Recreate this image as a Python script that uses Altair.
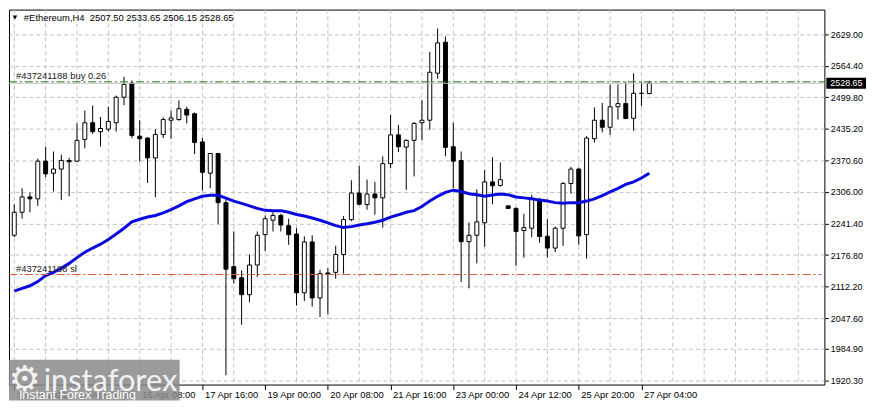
import altair as alt
import pandas as pd

# ---------------- data (ETH H4) ----------------
opens = [2217.4, 2264.5, 2295.9, 2292.0, 2369.2, 2344.4, 2352.9, 2370.5, 2369.2, 2413.7,
         2447.8, 2429.5, 2434.7, 2447.8, 2500.1, 2528.9, 2420.3, 2416.4, 2375.8, 2423.6,
         2453.0, 2454.3, 2475.3, 2466.1, 2408.5, 2344.4, 2384.9, 2284.2, 2153.3, 2130.3,
         2095.7, 2156.5, 2218.7, 2248.2, 2258.0, 2237.0, 2220.0, 2099.6, 2203.7, 2089.1,
         2140.2, 2141.5, 2178.1, 2249.5, 2303.8, 2280.2, 2301.8, 2294.0, 2364.0, 2422.9,
         2398.0, 2411.8, 2447.8, 2453.0, 2549.2, 2612.7, 2398.7, 2370.5, 2204.3, 2217.4,
         2242.9, 2326.7, 2319.5, 2277.6, 2272.4, 2227.2, 2231.8, 2290.7, 2215.4, 2191.2,
         2231.8, 2323.4, 2352.9, 2218.7, 2415.1, 2453.0, 2438.6, 2480.5, 2487.0, 2456.9,
         2508.0, 2507.50]
highs = [2280.9, 2313.6, 2305.1, 2374.5, 2398.7, 2388.9, 2382.3, 2375.8, 2446.5, 2472.7,
         2483.1, 2459.6, 2480.5, 2503.4, 2542.0, 2534.2, 2453.0, 2418.3, 2434.7, 2458.9,
         2472.7, 2493.6, 2480.5, 2468.7, 2416.4, 2385.6, 2385.6, 2290.7, 2225.2, 2145.4,
         2178.1, 2225.2, 2258.0, 2264.5, 2261.2, 2251.4, 2231.8, 2215.4, 2217.4, 2146.7,
         2150.0, 2195.8, 2256.7, 2330.0, 2359.4, 2331.3, 2326.7, 2379.1, 2464.1, 2443.2,
         2413.7, 2449.1, 2493.6, 2593.1, 2640.9, 2624.5, 2447.8, 2388.9, 2243.6, 2311.6,
         2350.9, 2377.1, 2366.6, 2278.3, 2274.3, 2261.2, 2300.5, 2294.0, 2250.1, 2235.1,
         2326.7, 2357.5, 2356.1, 2420.3, 2479.2, 2488.4, 2526.3, 2526.3, 2531.6, 2549.2,
         2531.6, 2533.65]
lows = [2213.5, 2251.4, 2264.5, 2277.6, 2336.5, 2307.1, 2289.4, 2297.2, 2367.9, 2395.4,
        2424.9, 2399.3, 2429.5, 2429.5, 2483.8, 2416.4, 2367.9, 2324.7, 2295.3, 2416.4,
        2415.1, 2452.0, 2446.5, 2383.6, 2309.0, 2313.6, 2240.3, 1930.7, 2119.2, 2034.1,
        2080.0, 2132.3, 2184.7, 2225.2, 2225.2, 2197.8, 2073.4, 2082.6, 2071.4, 2049.8,
        2055.1, 2128.4, 2138.9, 2246.2, 2278.9, 2269.8, 2259.3, 2233.1, 2354.8, 2387.6,
        2310.3, 2337.8, 2411.8, 2433.4, 2538.1, 2379.1, 2313.6, 2121.8, 2108.7, 2159.8,
        2193.8, 2280.9, 2316.9, 2271.7, 2154.6, 2171.6, 2213.5, 2202.3, 2171.6, 2182.7,
        2195.8, 2302.5, 2197.8, 2169.6, 2407.2, 2428.1, 2422.9, 2454.3, 2455.6, 2431.4,
        2481.8, 2506.15]
closes = [2264.5, 2295.9, 2292.0, 2369.2, 2343.1, 2352.9, 2370.5, 2367.9, 2411.8, 2447.8,
          2429.5, 2436.0, 2450.4, 2500.1, 2526.3, 2421.6, 2415.1, 2375.8, 2423.6, 2454.3,
          2457.6, 2476.6, 2463.5, 2407.2, 2346.3, 2384.9, 2284.2, 2148.0, 2128.4, 2095.7,
          2156.5, 2217.4, 2251.4, 2258.0, 2238.3, 2218.7, 2099.6, 2203.7, 2089.1, 2138.9,
          2137.5, 2178.1, 2249.5, 2303.8, 2280.9, 2301.8, 2294.0, 2364.0, 2422.9, 2398.7,
          2411.8, 2446.5, 2453.0, 2551.2, 2611.4, 2397.4, 2369.2, 2204.3, 2217.4, 2244.9,
          2326.7, 2318.8, 2331.3, 2272.4, 2225.2, 2233.1, 2292.0, 2214.8, 2191.2, 2231.8,
          2323.4, 2352.9, 2216.1, 2416.4, 2453.0, 2438.6, 2480.5, 2487.0, 2456.3, 2508.0,
          2508.0, 2528.65]
ma = [2102.9, 2108.7, 2114.0, 2122.5, 2134.9, 2141.5, 2150.0, 2159.8, 2171.6, 2182.7,
      2191.2, 2199.1, 2208.9, 2220.0, 2231.8, 2244.9, 2250.1, 2254.7, 2258.0, 2263.2,
      2269.8, 2277.6, 2286.1, 2292.0, 2297.2, 2299.2, 2299.2, 2293.3, 2287.4, 2282.8,
      2277.6, 2272.4, 2268.4, 2267.8, 2267.8, 2264.5, 2259.9, 2256.7, 2252.7, 2248.2,
      2242.9, 2237.0, 2233.1, 2235.1, 2238.3, 2241.0, 2244.2, 2248.2, 2254.7, 2259.3,
      2264.5, 2267.8, 2276.3, 2287.4, 2297.2, 2305.1, 2309.7, 2307.1, 2302.5, 2300.5,
      2297.2, 2299.9, 2301.8, 2300.5, 2295.9, 2294.0, 2292.0, 2289.4, 2287.4, 2284.2,
      2282.8, 2284.2, 2284.2, 2287.4, 2292.0, 2298.6, 2306.4, 2313.6, 2321.5, 2326.7,
      2334.6, 2344.4]

price_ticks = [2629.00, 2564.40, 2499.80, 2435.20, 2370.60, 2306.00, 2241.40,
               2176.80, 2112.20, 2047.60, 1984.90, 1920.30]
time_tick_bars = [0, 8, 16, 24, 32, 40, 48, 56, 64, 72, 80]
time_tick_labels = ["13 Apr 2021", "15 Apr 00:00", "16 Apr 08:00", "17 Apr 16:00",
                    "19 Apr 00:00", "20 Apr 08:00", "21 Apr 16:00", "23 Apr 00:00",
                    "24 Apr 12:00", "25 Apr 20:00", "27 Apr 04:00"]
time_grid_bars = [0, 4, 8, 12, 16, 20, 24, 28, 32, 36, 40, 44, 48, 52, 56, 60, 64,
                  68, 72, 76, 80, 84, 88, 92, 96, 100]

title_text = "#Ethereum,H4\u00a0\u00a02507.50 2533.65 2506.15 2528.65"
buy_price = 2531.6
bid_price = 2528.65
sl_price = 2137.0
buy_label = "#437241188 buy 0.26"
sl_label = "#437241188 sl"
bid_label = "2528.65"

# ---------------- chart ----------------
W, H = 822, 378
FONT = "Liberation Sans"
GRID = "#c0c0c0"

df = pd.DataFrame({"i": list(range(len(opens))), "open": opens, "high": highs,
                   "low": lows, "close": closes, "ma": ma})
df["dir"] = ["down" if c < o else "up" for o, c in zip(opens, closes)]

xscale = alt.Scale(domain=[-0.04, 102.7], nice=False, zero=False)
yscale = alt.Scale(domain=[1911.7, 2679.5], nice=False, zero=False)

label_expr = "[" + ",".join("'%s'" % s for s in time_tick_labels) + "][round(datum.value/8)]"

x_axis = alt.Axis(values=time_tick_bars, tickCount=40, labelExpr=label_expr, grid=False,
                  domain=False, ticks=True, tickSize=5, tickColor="#000000",
                  labelAlign="left", labelBaseline="top", labelPadding=0, labelOffset=2,
                  labelFont=FONT, labelFontSize=9.5, labelColor="#000000",
                  labelOverlap=False, labelFlush=False, labelBound=False, title=None)
y_axis = alt.Axis(orient="right", values=price_ticks, tickCount=40, format=".2f",
                  grid=True, gridColor=GRID, gridDash=[4, 3], gridWidth=1, domain=False,
                  tickSize=4, tickColor="#000000", labelPadding=2, labelFont=FONT,
                  labelFontSize=9, labelColor="#000000", labelOverlap=False,
                  labelFlush=False, labelBound=False, title=None)

base = alt.Chart(df)

vgrid = alt.Chart(pd.DataFrame({"g": time_grid_bars})).mark_rule(
    color=GRID, strokeWidth=1, strokeDash=[4, 3], clip=True).encode(
    x=alt.X("g:Q", scale=xscale, axis=x_axis, title=None),
    y=alt.value(0), y2=alt.value(H))

wicks = base.mark_rule(color="#000000", strokeWidth=1, clip=True).encode(
    x=alt.X("i:Q", scale=xscale, title=None),
    y=alt.Y("low:Q", scale=yscale, axis=y_axis, title=None),
    y2="high:Q",
)

bodies = base.mark_bar(size=4, stroke="#000000", strokeWidth=1, clip=True).encode(
    x=alt.X("i:Q", scale=xscale, title=None),
    y=alt.Y("open:Q", scale=yscale, title=None),
    y2="close:Q",
    fill=alt.Fill("dir:N", scale=alt.Scale(domain=["up", "down"],
                                           range=["#ffffff", "#000000"]), legend=None),
)

ma_line = base.mark_line(color="#0a0ae0", strokeWidth=3, clip=True).encode(
    x=alt.X("i:Q", scale=xscale, title=None),
    y=alt.Y("ma:Q", scale=yscale, title=None),
)

lines_df = pd.DataFrame({"price": [bid_price]})
bid_line = alt.Chart(lines_df).mark_rule(color="#c0c0c0", strokeWidth=1).encode(
    y=alt.Y("price:Q", scale=yscale, title=None), x=alt.value(0), x2=alt.value(W))

buy_df = pd.DataFrame({"price": [buy_price], "label": [buy_label]})
buy_line = alt.Chart(buy_df).mark_rule(color="#1f7a1f", strokeWidth=1,
                                       strokeDash=[8, 3, 2, 3]).encode(
    y=alt.Y("price:Q", scale=yscale, title=None), x=alt.value(0), x2=alt.value(W))
buy_text = alt.Chart(buy_df).mark_text(align="left", baseline="bottom", dy=-1,
                                       font=FONT, fontSize=9.5, color="#202020").encode(
    y=alt.Y("price:Q", scale=yscale, title=None), x=alt.value(7), text="label:N")

sl_df = pd.DataFrame({"price": [sl_price], "label": [sl_label]})
sl_line = alt.Chart(sl_df).mark_rule(color="#d4583a", strokeWidth=1,
                                     strokeDash=[8, 3, 2, 3]).encode(
    y=alt.Y("price:Q", scale=yscale, title=None), x=alt.value(0), x2=alt.value(W - 3))
sl_text = alt.Chart(sl_df).mark_text(align="left", baseline="bottom", dy=-1,
                                     font=FONT, fontSize=9.5, color="#202020").encode(
    y=alt.Y("price:Q", scale=yscale, title=None), x=alt.value(7), text="label:N")

bid_df = pd.DataFrame({"price": [bid_price], "label": [bid_label]})
bid_box = alt.Chart(bid_df).mark_rule(color="#000000", strokeWidth=11).encode(
    y=alt.Y("price:Q", scale=yscale, title=None), x=alt.value(W + 2), x2=alt.value(W + 42))
bid_text = alt.Chart(bid_df).mark_text(align="left", baseline="middle", font=FONT,
                                       fontSize=9, color="#ffffff").encode(
    y=alt.Y("price:Q", scale=yscale, title=None), x=alt.value(W + 6), text="label:N")

title_df = pd.DataFrame({"label": [title_text]})
title_tri = alt.Chart(title_df).mark_point(shape="triangle-down", filled=True,
                                           color="#000000", size=22, opacity=1).encode(
    x=alt.value(6), y=alt.value(8))
title_mark = alt.Chart(title_df).mark_text(align="left", baseline="middle", font=FONT,
                                           fontSize=9.5, color="#000000").encode(
    x=alt.value(15), y=alt.value(8), text="label:N")

wm_df = pd.DataFrame({"brand": ["instaforex"], "tag": ["Instant Forex Trading"],
                      "gear": ["\u2699"]})
wm_box = alt.Chart(wm_df).mark_rect(color="#8a8a8a", opacity=0.85).encode(
    x=alt.value(0), x2=alt.value(172), y=alt.value(H - 25), y2=alt.value(H + 16))
wm_gear = alt.Chart(wm_df).mark_text(align="center", baseline="middle", font="DejaVu Sans",
                                     fontSize=36, color="#f2f2f2").encode(
    x=alt.value(16), y=alt.value(H - 5), text="gear:N")
wm_brand = alt.Chart(wm_df).mark_text(align="left", baseline="alphabetic", font="Lato",
                                      fontSize=31, color="#f2f2f2").encode(
    x=alt.value(35), y=alt.value(H + 6), text="brand:N")
wm_tag = alt.Chart(wm_df).mark_text(align="left", baseline="middle", font=FONT,
                                    fontSize=12.5, color="#ffffff").encode(
    x=alt.value(10), y=alt.value(H + 11), text="tag:N")

chart = alt.layer(
    vgrid, wicks, bodies, ma_line, bid_line, buy_line, sl_line, buy_text, sl_text,
    title_tri, title_mark, bid_box, bid_text, wm_box, wm_gear, wm_brand, wm_tag,
).properties(
    width=W, height=H,
    padding={"left": 0, "top": 0, "right": 0, "bottom": 0},
    background="#ffffff",
).configure_view(stroke="#000000", strokeWidth=1)

chart.save("out.html", embed_options={"renderer": "svg", "actions": False})
